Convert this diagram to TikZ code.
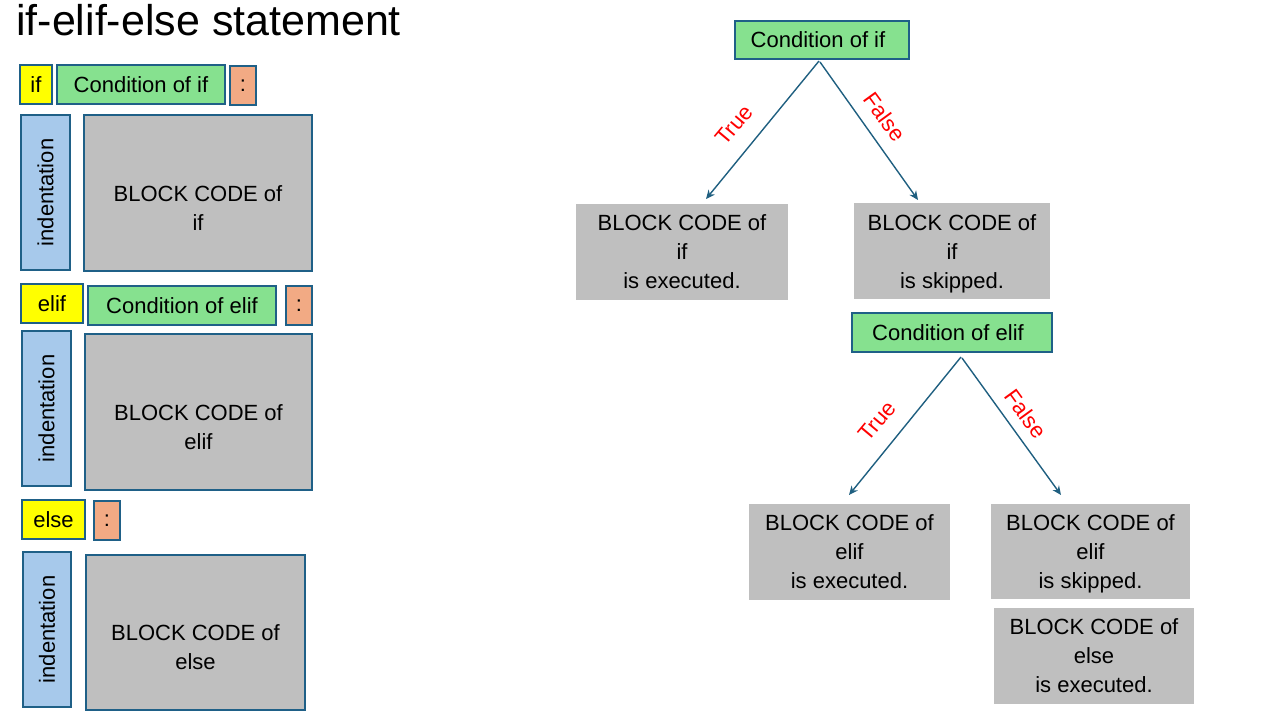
\documentclass[tikz,border=0pt]{standalone}
\usepackage{fontspec}
\setmainfont{Liberation Sans}
\usetikzlibrary{arrows.meta}
\definecolor{ylw}{HTML}{FFFF00}
\definecolor{grn}{HTML}{86E18F}
\definecolor{org}{HTML}{F2AA84}
\definecolor{blu}{HTML}{A7C9EB}
\definecolor{gry}{HTML}{BFBFBF}
\definecolor{edg}{HTML}{1F6087}
\definecolor{arr}{HTML}{1F5F80}
\tikzset{
  base/.style={inner sep=0pt, outer sep=0pt, font=\fontsize{22}{29}\selectfont, align=center},
  ybox/.style={base, draw=edg, line width=1.1pt, fill=ylw},
  gbox/.style={base, draw=edg, line width=1.1pt, fill=grn},
  obox/.style={base, draw=edg, line width=1.1pt, fill=org},
  bbox/.style={base, draw=edg, line width=1.1pt, fill=blu},
  kbox/.style={base, draw=edg, line width=1.1pt, fill=gry},
  rbox/.style={base, fill=gry},
  lbl/.style={inner sep=0pt, text=red, font=\fontsize{22}{24}\selectfont},
  arrw/.style={draw=arr, line width=1.4pt, -{Stealth[length=9pt,width=8pt]}},
}
\newcommand{\bx}[6]{\node[#1, minimum width=#4-#2, minimum height=#5-#3] (#6) at ({(#2+#4)/2},{(#3+#5)/2})}
\begin{document}
\begin{tikzpicture}[x=1pt,y=-1pt]
\useasboundingbox (0,0) rectangle (1280,720);
\node[anchor=west, inner sep=0pt, font=\fontsize{43}{46}\selectfont] (title) at (16,20) {if-elif-else statement};
% left column
\bx{ybox}{20}{65}{52}{104}{kif} {if};
\bx{gbox}{57}{65}{225}{104}{cif} {Condition of if};
\bx{obox}{230}{66}{256}{105}{col1} {:};
\bx{bbox}{21}{115}{70}{270}{ind1} {\rotatebox{90}{indentation}};
\bx{kbox}{84}{115}{312}{271}{blk1} {};
\node[base] (blk1t) at ([yshift=-15pt]blk1.center) {BLOCK CODE of\\if};
\bx{ybox}{21}{284}{83}{323}{kelif} {elif};
\bx{gbox}{88}{286}{276}{325}{celif} {Condition of elif};
\bx{obox}{286}{286}{312}{325}{col2} {:};
\bx{bbox}{22}{331}{71}{486}{ind2} {\rotatebox{90}{indentation}};
\bx{kbox}{85}{334}{312}{490}{blk2} {};
\node[base] (blk2t) at ([yshift=-15pt]blk2.center) {BLOCK CODE of\\elif};
\bx{ybox}{22}{500}{85}{539}{kelse} {else};
\bx{obox}{94}{501}{120}{540}{col3} {:};
\bx{bbox}{23}{552}{71}{707}{ind3} {\rotatebox{90}{indentation}};
\bx{kbox}{86}{555}{305}{710}{blk3} {};
\node[base] (blk3t) at ([yshift=-15pt]blk3.center) {BLOCK CODE of\\else};
% right tree
\bx{gbox}{735}{21}{909}{59}{tc1} {Condition of if\hspace{8pt}};
\bx{rbox}{576}{204}{788}{300}{r1} {BLOCK CODE of\\if\\is executed.};
\bx{rbox}{854}{203}{1050}{299}{r2} {\rule{0pt}{22pt}BLOCK CODE of\\if\\is skipped.};
\bx{gbox}{852}{313}{1052}{352}{tc2} {Condition of elif\hspace{8pt}};
\bx{rbox}{749}{504}{950}{600}{r3} {BLOCK CODE of\\elif\\is executed.};
\bx{rbox}{991}{504}{1190}{599}{r4} {\rule{0pt}{21pt}BLOCK CODE of\\elif\\is skipped.};
\bx{rbox}{994}{608}{1194}{704}{r5} {BLOCK CODE of\\else\\is executed.};
\coordinate (s1) at (819,61);
\coordinate (s2) at (820,62);
\coordinate (e1) at (706,199);
\coordinate (e2) at (918,200);
\coordinate (s3) at (961,357);
\coordinate (s4) at (962,358);
\coordinate (e3) at (849,495);
\coordinate (e4) at (1061,495);
\draw[arrw] (s1) -- (e1);
\draw[arrw] (s2) -- (e2);
\draw[arrw] (s3) -- (e3);
\draw[arrw] (s4) -- (e4);
\node[lbl, rotate=50] (t1) at (734,125) {True};
\node[lbl, rotate=-54] (f1) at (885,117) {False};
\node[lbl, rotate=50] (t2) at (877,421) {True};
\node[lbl, rotate=-54] (f2) at (1026,414) {False};
\end{tikzpicture}
\end{document}
